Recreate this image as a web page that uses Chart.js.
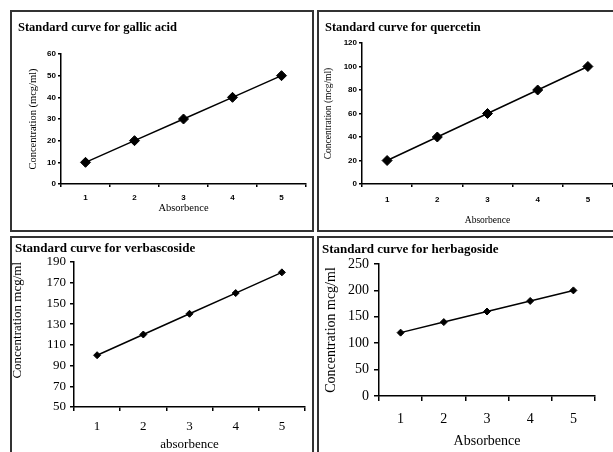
<!DOCTYPE html>
<html>
<head>
<meta charset="utf-8">
<script src="https://cdn.jsdelivr.net/npm/chart.js@4/dist/chart.umd.min.js"></script>
<style>
    html, body { margin: 0; padding: 0; background: #fff; overflow: hidden; width: 613px; height: 452px; }
    .frame { position: absolute; box-sizing: border-box; border: 2px solid #333; }
    canvas { position: absolute; }
</style>
</head>
<body>
<div class="frame" style="left:10px;top:10px;width:304px;height:222px"></div>
<div class="frame" style="left:317px;top:10px;width:310px;height:222px"></div>
<div class="frame" style="left:10px;top:236px;width:304px;height:230px"></div>
<div class="frame" style="left:317px;top:236px;width:310px;height:230px"></div>

<canvas id="chart1" width="300" height="218" style="left:12px;top:12px"></canvas>
<canvas id="chart2" width="300" height="218" style="left:319px;top:12px"></canvas>
<canvas id="chart3" width="300" height="214" style="left:12px;top:238px"></canvas>
<canvas id="chart4" width="300" height="214" style="left:319px;top:238px"></canvas>

<script>
// data
var absorbence = ['1', '2', '3', '4', '5'];
var gallicAcid = [10, 20, 30, 40, 50];
var quercetin = [20, 40, 60, 80, 100];
var verbascoside = [100, 120, 140, 160, 180];
var herbagoside = [120, 140, 160, 180, 200];

// y ranges [min, max, step]
var gallicRange = [0, 60, 10];
var quercetinRange = [0, 120, 20];
var verbascosideRange = [50, 190, 20];
var herbagosideRange = [0, 250, 50];

var SERIF = '"Liberation Serif", "Times New Roman", serif';
var SANS = '"Liberation Sans", Arial, sans-serif';

function makeChart(id, p) {
    return new Chart(document.getElementById(id), {
        type: 'line',
        data: {
            labels: absorbence,
            datasets: [{
                data: p.values,
                borderColor: '#000',
                borderWidth: 1.5,
                backgroundColor: '#000',
                pointStyle: 'rectRot',
                pointRadius: p.pointRadius,
                pointBorderWidth: 1,
                pointBorderColor: '#000',
                pointBackgroundColor: '#000',
                tension: 0
            }]
        },
        options: {
            responsive: false,
            animation: false,
            layout: { padding: { left: p.padLeft, right: p.padRight, top: 0, bottom: 0 } },
            plugins: {
                legend: { display: false },
                tooltip: { enabled: false },
                title: {
                    display: true,
                    text: p.title,
                    align: 'start',
                    color: '#000',
                    font: { family: SERIF, size: p.titleSize, weight: 'bold', lineHeight: 1.2 },
                    padding: { top: p.titleTop, bottom: p.titleBottom }
                }
            },
            scales: {
                x: {
                    type: 'category',
                    offset: true,
                    afterFit: function (scale) { scale.height = p.xHeight; },
                    grid: { offset: true, drawOnChartArea: false, drawTicks: true, tickLength: p.tickLen, color: '#000', lineWidth: 1.5 },
                    border: { color: '#000', width: 1.5 },
                    ticks: { color: '#000', padding: p.xTickPad, font: p.tickFont },
                    title: {
                        display: true,
                        text: p.xTitle,
                        color: '#000',
                        font: p.axisFont,
                        padding: { top: 0, bottom: p.xTitlePad }
                    }
                },
                y: {
                    min: p.range[0],
                    max: p.range[1],
                    afterFit: function (scale) { scale.width = p.yWidth; },
                    grid: { drawOnChartArea: false, drawTicks: true, tickLength: p.tickLen, color: '#000', lineWidth: 1.5 },
                    border: { color: '#000', width: 1.5 },
                    ticks: { stepSize: p.range[2], color: '#000', padding: p.yTickPad, font: p.tickFont },
                    title: {
                        display: true,
                        text: p.yTitle,
                        color: '#000',
                        align: p.yTitleAlign,
                        font: p.axisFont,
                        padding: { top: p.yTitlePad, bottom: 0 }
                    }
                }
            }
        }
    });
}

var smallTicks = { family: SANS, size: 8, weight: 'bold' };
var bigTicks = { family: SERIF, size: 13 };

makeChart('chart1', {
    values: gallicAcid, range: gallicRange, title: 'Standard curve for gallic acid',
    xTitle: 'Absorbence', yTitle: 'Concentration (mcg/ml)', yTitleAlign: 'center',
    titleSize: 12.5, titleTop: 8.5, titleBottom: 18.5,
    padLeft: 6, padRight: 6, yWidth: 43, xHeight: 46,
    tickLen: 3, xTickPad: 6, yTickPad: 2, yTitlePad: 9,
    tickFont: smallTicks, axisFont: { family: SERIF, size: 10.5 }, xTitlePad: 15,
    pointRadius: 5
});

makeChart('chart2', {
    values: quercetin, range: quercetinRange, title: 'Standard curve for quercetin',
    xTitle: 'Absorbence', yTitle: 'Concentration (mcg/ml)', yTitleAlign: 'center',
    titleSize: 12.5, titleTop: 8.5, titleBottom: 7.5,
    padLeft: 6, padRight: 3, yWidth: 37, xHeight: 46,
    tickLen: 3, xTickPad: 8, yTickPad: 2, yTitlePad: -2,
    tickFont: smallTicks, axisFont: { family: SERIF, size: 9.5 }, xTitlePad: 3.5,
    pointRadius: 5
});

makeChart('chart3', {
    values: verbascoside, range: verbascosideRange, title: 'Standard curve for verbascoside',
    xTitle: 'absorbence', yTitle: 'Concentration mcg/ml', yTitleAlign: 'end',
    titleSize: 13, titleTop: 3, titleBottom: 5.4,
    padLeft: 3, padRight: 7, yWidth: 59, xHeight: 45,
    tickLen: 4, xTickPad: 8, yTickPad: 4, yTitlePad: -4.8,
    tickFont: bigTicks, axisFont: { family: SERIF, size: 13 }, xTitlePad: 0,
    pointRadius: 3.5
});

makeChart('chart4', {
    values: herbagoside, range: herbagosideRange, title: 'Standard curve for herbagoside',
    xTitle: 'Absorbence', yTitle: 'Concentration mcg/ml', yTitleAlign: 'center',
    titleSize: 13, titleTop: 4.2, titleBottom: 6.2,
    padLeft: 3, padRight: 24, yWidth: 57, xHeight: 56,
    tickLen: 5, xTickPad: 10, yTickPad: 5, yTitlePad: 0.6,
    tickFont: { family: SERIF, size: 14 }, axisFont: { family: SERIF, size: 14 }, xTitlePad: 2.6,
    pointRadius: 3.5
});
</script>
</body>
</html>
